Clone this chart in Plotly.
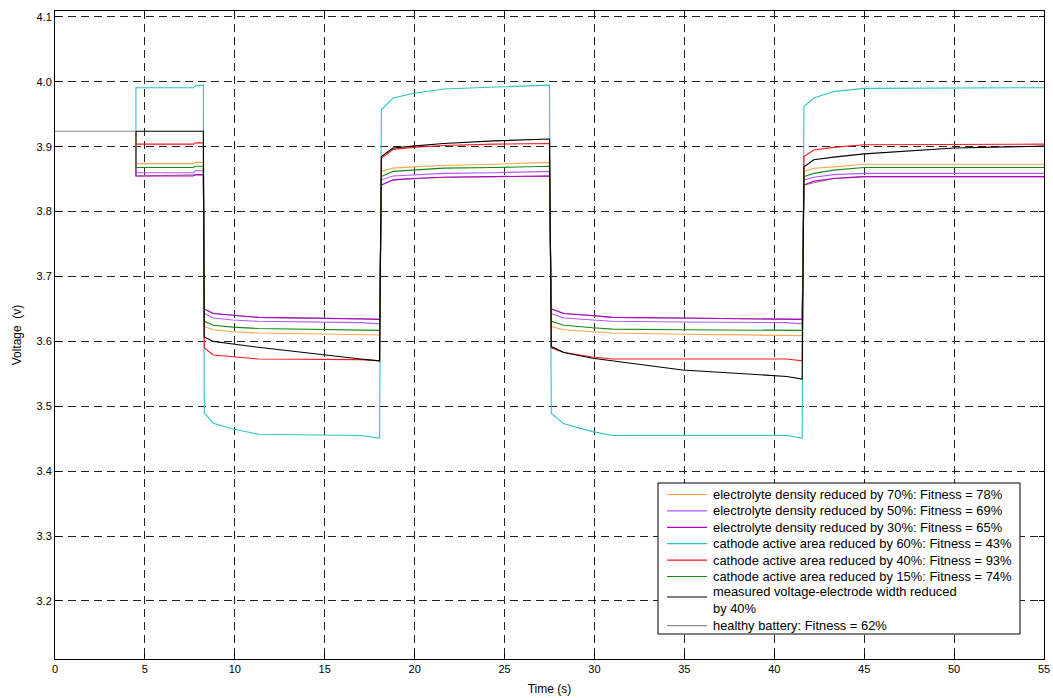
import plotly.graph_objects as go

# Time base shared by the simulated traces (s); repeated instants form the current steps
t_sim = [4.5, 4.5, 7.7, 7.8, 8.25, 8.3, 8.8, 9.9, 11.3, 17.0, 18.05, 18.15, 18.8, 19.9,
         21.6, 24.4, 27.5, 27.6, 28.3, 29.9, 31.0, 34.9, 40.7, 41.55, 41.65, 42.2,
         43.3, 45.0, 50.0, 55.0]

# Terminal voltage (V) for each fault scenario
v_elec70 = [3.924, 3.874, 3.874, 3.876, 3.876, 3.623, 3.618, 3.615, 3.613, 3.611, 3.610,
            3.862, 3.867, 3.869, 3.871, 3.873, 3.876, 3.623, 3.618, 3.615, 3.613, 3.611,
            3.610, 3.609, 3.862, 3.867, 3.869, 3.873, 3.873, 3.873]
v_elec50 = [3.924, 3.860, 3.860, 3.863, 3.863, 3.643, 3.636, 3.633, 3.631, 3.629, 3.627,
            3.849, 3.855, 3.857, 3.859, 3.860, 3.862, 3.643, 3.636, 3.633, 3.631, 3.630,
            3.629, 3.627, 3.849, 3.853, 3.857, 3.859, 3.859, 3.859]
v_elec30 = [3.924, 3.855, 3.855, 3.857, 3.857, 3.650, 3.643, 3.640, 3.637, 3.635, 3.634,
            3.841, 3.849, 3.851, 3.853, 3.854, 3.855, 3.650, 3.643, 3.640, 3.637, 3.636,
            3.635, 3.634, 3.841, 3.847, 3.851, 3.854, 3.854, 3.854]
v_cath60 = [3.924, 3.991, 3.991, 3.994, 3.995, 3.490, 3.474, 3.465, 3.457, 3.455, 3.451,
            3.957, 3.975, 3.982, 3.989, 3.992, 3.995, 3.489, 3.473, 3.461, 3.455, 3.455,
            3.455, 3.451, 3.962, 3.975, 3.985, 3.990, 3.991, 3.991]
v_cath40 = [3.924, 3.904, 3.904, 3.906, 3.906, 3.590, 3.579, 3.576, 3.573, 3.572, 3.570,
            3.882, 3.896, 3.899, 3.902, 3.904, 3.905, 3.590, 3.583, 3.576, 3.573, 3.573,
            3.573, 3.570, 3.885, 3.895, 3.899, 3.903, 3.904, 3.904]
v_cath15 = [3.924, 3.868, 3.868, 3.870, 3.870, 3.631, 3.625, 3.622, 3.620, 3.618, 3.617,
            3.854, 3.862, 3.864, 3.867, 3.868, 3.870, 3.631, 3.625, 3.621, 3.619, 3.618,
            3.618, 3.617, 3.854, 3.859, 3.864, 3.868, 3.868, 3.868]
v_measured = [3.924, 3.924, 3.924, 3.924, 3.924, 3.607, 3.600, 3.596, 3.591, 3.573, 3.570,
              3.885, 3.898, 3.901, 3.905, 3.909, 3.912, 3.592, 3.583, 3.574, 3.570, 3.556,
              3.546, 3.542, 3.869, 3.880, 3.884, 3.889, 3.898, 3.901]

# Healthy battery model, simulated from t = 0
t_healthy = [0.0, 4.5, 4.5, 8.25, 8.3, 8.8, 11.3, 18.05, 18.15, 18.8, 21.6, 27.5, 27.6,
             28.3, 31.0, 41.55, 41.65, 43.3, 45.0, 55.0]
v_healthy = [3.924, 3.924, 3.855, 3.857, 3.650, 3.643, 3.637, 3.634, 3.841, 3.849, 3.853,
             3.855, 3.650, 3.643, 3.637, 3.634, 3.841, 3.851, 3.854, 3.854]

labels = [
    "electrolyte density reduced by 70%: Fitness = 78%",
    "electrolyte density reduced by 50%: Fitness = 69%",
    "electrolyte density reduced by 30%: Fitness = 65%",
    "cathode active area reduced by 60%: Fitness = 43%",
    "cathode active area reduced by 40%: Fitness = 93%",
    "cathode active area reduced by 15%: Fitness = 74%",
    "measured voltage-electrode width reduced<br>by 40%",
    "healthy battery: Fitness = 62%",
]
colors = ["#FFA54F", "#B45AFF", "#B400C8", "#2EC4C4", "#FF1A1A", "#178A17", "#000000", "#8C8C8C"]
values = [v_elec70, v_elec50, v_elec30, v_cath60, v_cath40, v_cath15, v_measured, v_healthy]
times = [t_sim] * 7 + [t_healthy]

y_ticks = [3.2, 3.3, 3.4, 3.5, 3.6, 3.7, 3.8, 3.9, 4.0, 4.1]
x_ticks = [0, 5, 10, 15, 20, 25, 30, 35, 40, 45, 50, 55]

FONT = "Liberation Sans, Arial, sans-serif"
W, H = 1053, 698
M_L, M_R, M_T, M_B = 55, 9, 11, 39
PLOT_W = W - M_L - M_R
PLOT_H = H - M_T - M_B

fig = go.Figure()

# healthy trace is drawn first so the fault traces sit on top of it
order = [7, 0, 1, 2, 3, 4, 5, 6]
for i in order:
    fig.add_trace(go.Scatter(
        x=times[i], y=values[i], mode="lines", name=labels[i],
        line=dict(color=colors[i], width=1.1), showlegend=False,
    ))

axis_common = dict(
    showline=True, linecolor="black", linewidth=1, mirror="ticks",
    ticks="inside", ticklen=5, tickcolor="black", tickwidth=1,
    showgrid=True, gridcolor="#222222", gridwidth=1, griddash="8px,5px",
    zeroline=False, automargin=False,
    tickfont=dict(family=FONT, size=11, color="black"),
)

fig.update_xaxes(
    range=[0, 55], tickvals=x_ticks,
    title=dict(text="Time (s)", standoff=10, font=dict(family=FONT, size=12, color="black")),
    **axis_common,
)
fig.update_yaxes(
    range=[3.1106, 4.1092], tickvals=y_ticks, tickformat=".1f",
    title=dict(text="Voltage  (v)", standoff=12, font=dict(family=FONT, size=12, color="black")),
    **axis_common,
)


# Boxed legend in the lower right corner, laid out in pixels from the plot corner
def px_x(p):
    return (p - M_L) / PLOT_W


def px_y(p):
    return (H - M_B - p) / PLOT_H


box_l, box_r, box_t, box_b = 658, 1020, 483, 634
row_h = 16.4
first_row = 494.5
sw_l, sw_r, txt_l = 667, 707, 711

shapes = [dict(type="rect", xref="paper", yref="paper",
               x0=px_x(box_l), x1=px_x(box_r), y0=px_y(box_b), y1=px_y(box_t),
               line=dict(color="black", width=1), fillcolor="white", layer="above")]
annotations = []
row = 0
for lab, col in zip(labels, colors):
    n_lines = lab.count("<br>") + 1
    text_mid = first_row + row_h * (row + (n_lines - 1) / 2) - (1.5 if n_lines > 1 else 0)
    sw_y = first_row + row_h * row + (row_h * 0.25 if n_lines > 1 else 0)
    shapes.append(dict(type="line", xref="paper", yref="paper",
                       x0=px_x(sw_l), x1=px_x(sw_r), y0=px_y(sw_y), y1=px_y(sw_y),
                       line=dict(color=col, width=1.2), layer="above"))
    annotations.append(dict(xref="paper", yref="paper", x=px_x(txt_l), y=px_y(text_mid),
                            xanchor="left", yanchor="middle", align="left", showarrow=False,
                            text=lab, font=dict(family=FONT, size=12.9, color="black")))
    row += n_lines

fig.update_layout(
    width=W, height=H,
    margin=dict(l=M_L, r=M_R, t=M_T, b=M_B),
    paper_bgcolor="white", plot_bgcolor="white",
    font=dict(family=FONT, size=11, color="black"),
    shapes=shapes, annotations=annotations,
    showlegend=False,
)

fig.write_html("out.html")
